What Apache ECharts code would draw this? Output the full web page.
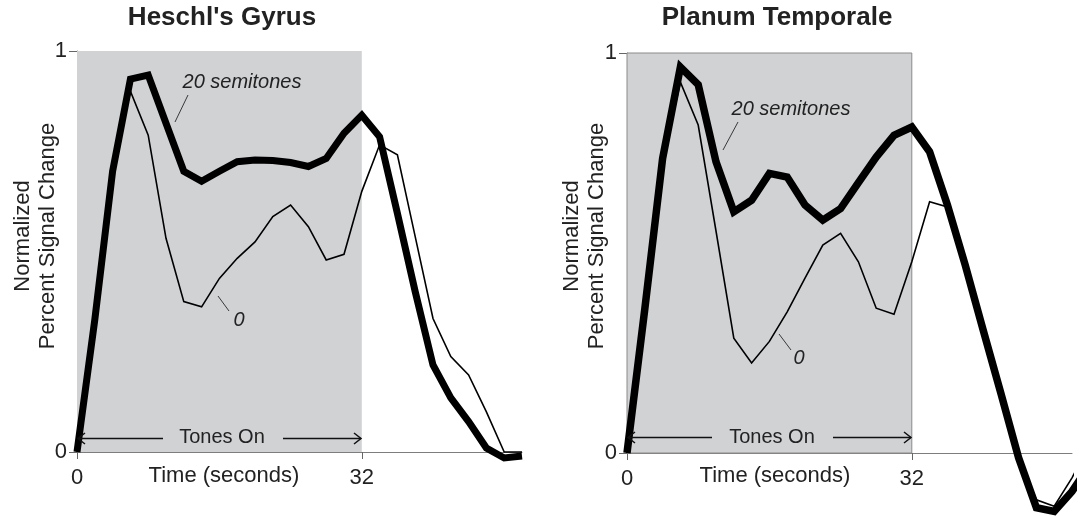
<!DOCTYPE html>
<html>
<head>
    <meta charset="utf-8">
    <title>Signal change</title>
    <script src="https://cdn.jsdelivr.net/npm/echarts@6/dist/echarts.min.js"></script>
    <style>
        html, body { margin: 0; padding: 0; background: #fff; }
        #main { width: 1090px; height: 516px; }
    </style>
</head>
<body>
    <div id="main"></div>
    <script>
        // sample times (s), scans every 2 s
        var hgTime = [0,2,4,6,8,10,12,14,16,18,20,22,24,26,28,30,32,34,36,38,40,42,44,46,48,50];
        var ptTime = [0,2,4,6,8,10,12,14,16,18,20,22,24,26,28,30,32,34,36,38,40,42,44,46,48,50,52];

        // Heschl's Gyrus
        var hg20 = [0,0.33,0.70,0.93,0.94,0.82,0.70,0.675,0.70,0.724,0.728,0.727,0.722,0.712,0.732,0.795,0.84,0.786,0.595,0.40,0.217,0.135,0.076,0.01,-0.015,-0.01];
        var hg0 = [0,0.33,0.70,0.90,0.79,0.533,0.375,0.362,0.433,0.483,0.524,0.587,0.616,0.562,0.479,0.493,0.65,0.766,0.741,0.537,0.333,0.238,0.192,0.10,0.0,0.0];

        // Planum Temporale
        var pt20 = [0,0.36,0.736,0.965,0.921,0.728,0.603,0.632,0.699,0.69,0.62,0.582,0.611,0.676,0.74,0.794,0.815,0.753,0.62,0.47,0.309,0.15,-0.012,-0.137,-0.146,-0.096,-0.03];
        var pt0 = [0,0.36,0.73,0.927,0.82,0.555,0.287,0.225,0.279,0.353,0.437,0.52,0.549,0.478,0.362,0.347,0.478,0.628,0.615,0.47,0.309,0.15,-0.01,-0.117,-0.133,-0.062,0.025];

        var toneOn = [0, 32];
        var xTicks = [0, 32];
        var yTicks = [0, 1];
        var titles = ["Heschl's Gyrus", 'Planum Temporale'];

        var FONT = '"Liberation Sans", Arial, sans-serif';
        var grids = [
            { left: 77, top: 51, width: 445, height: 401 },
            { left: 627, top: 53, width: 445, height: 400 }
        ];

        function pairs(t, v) {
            return t.map(function (x, i) { return [x, v[i]]; });
        }

        var myChart = echarts.init(document.getElementById('main'));

        var xAxes = [], yAxes = [], series = [];
        grids.forEach(function (g, i) {
            xAxes.push({
                type: 'value', gridIndex: i, min: 0, max: 50,
                axisLine: { lineStyle: { color: '#7d7d7d', width: 1 } },
                splitLine: { show: false },
                axisTick: { customValues: xTicks, length: 7, lineStyle: { color: '#666' } },
                axisLabel: { customValues: xTicks, fontSize: 22, color: '#222', margin: 15, fontFamily: FONT }
            });
            yAxes.push({
                type: 'value', gridIndex: i, min: 0, max: 1,
                axisLine: { show: true, lineStyle: { color: '#7d7d7d', width: 1 } },
                splitLine: { show: false },
                axisTick: { show: true, customValues: yTicks, length: 8, lineStyle: { color: '#666' } },
                axisLabel: { customValues: yTicks, fontSize: 22, color: '#222', margin: 10, fontFamily: FONT }
            });
            // shaded "tones on" period
            series.push({
                type: 'line', xAxisIndex: i, yAxisIndex: i, data: [], z: 1, silent: true,
                markArea: {
                    silent: true,
                    itemStyle: {
                        color: '#d1d2d4',
                        borderColor: i === 1 ? '#8a8a8a' : 'transparent',
                        borderWidth: i === 1 ? 1 : 0
                    },
                    data: [[{ coord: [toneOn[0], 0] }, { coord: [toneOn[1], 1] }]]
                }
            });
        });

        var lines = [[hgTime, hg20, 0, 7], [hgTime, hg0, 0, 1.6], [ptTime, pt20, 1, 7.5], [ptTime, pt0, 1, 1.6]];
        lines.forEach(function (l) {
            series.push({
                type: 'line', xAxisIndex: l[2], yAxisIndex: l[2],
                data: pairs(l[0], l[1]),
                showSymbol: false, clip: false, z: l[3] > 2 ? 3 : 4,
                lineStyle: { color: '#000', width: l[3], join: 'miter' },
                silent: true
            });
        });

        function txt(x, y, s, size, extra) {
            return {
                type: 'text', x: x, y: y, silent: true, z: 20,
                rotation: extra && extra.rot ? extra.rot : 0,
                style: {
                    text: s, fill: '#222', textAlign: 'center', textVerticalAlign: 'middle',
                    font: (extra && extra.style ? extra.style + ' ' : '') + size + 'px ' + FONT,
                    lineHeight: 25
                }
            };
        }
        function seg(pts, w) {
            return { type: 'polyline', silent: true, z: 20, shape: { points: pts }, style: { stroke: '#111', lineWidth: w || 1, fill: null } };
        }

        var graphic = [
            txt(222, 18, titles[0], 26, { style: 'bold' }),
            txt(777, 18, titles[1], 26, { style: 'bold' }),
            txt(35, 236, 'Normalized\nPercent Signal Change', 22, { rot: Math.PI / 2 }),
            txt(584, 236, 'Normalized\nPercent Signal Change', 22, { rot: Math.PI / 2 }),
            txt(224, 476, 'Time (seconds)', 22),
            txt(775, 476, 'Time (seconds)', 22),
            txt(222, 437, 'Tones On', 20),
            txt(772, 437, 'Tones On', 20),
            // arrows
            seg([[163, 438.5], [78, 438.5]], 1.5), seg([[85, 433], [78, 438.5], [85, 444]], 1.5),
            seg([[283, 438.5], [361, 438.5]], 1.5), seg([[354, 433], [361, 438.5], [354, 444]], 1.5),
            seg([[712, 437.5], [628, 437.5]], 1.5), seg([[635, 432], [628, 437.5], [635, 443]], 1.5),
            seg([[833, 437.5], [911, 437.5]], 1.5), seg([[904, 432], [911, 437.5], [904, 443]], 1.5),
            // series labels
            txt(242, 82, '20 semitones', 20, { style: 'italic' }),
            seg([[175, 122], [188, 95]], 0.8),
            txt(239, 320, '0', 20, { style: 'italic' }),
            seg([[218, 296], [229, 311]], 0.8),
            txt(791, 109, '20 semitones', 20, { style: 'italic' }),
            seg([[723, 150], [738, 122]], 0.8),
            txt(799, 358, '0', 20, { style: 'italic' }),
            seg([[779, 334], [791, 350]], 0.8)
        ];

        var option = {
            animation: false,
            backgroundColor: '#fff',
            textStyle: { fontFamily: FONT },
            grid: grids,
            xAxis: xAxes,
            yAxis: yAxes,
            series: series,
            graphic: graphic
        };
        myChart.setOption(option);
    </script>
</body>
</html>
